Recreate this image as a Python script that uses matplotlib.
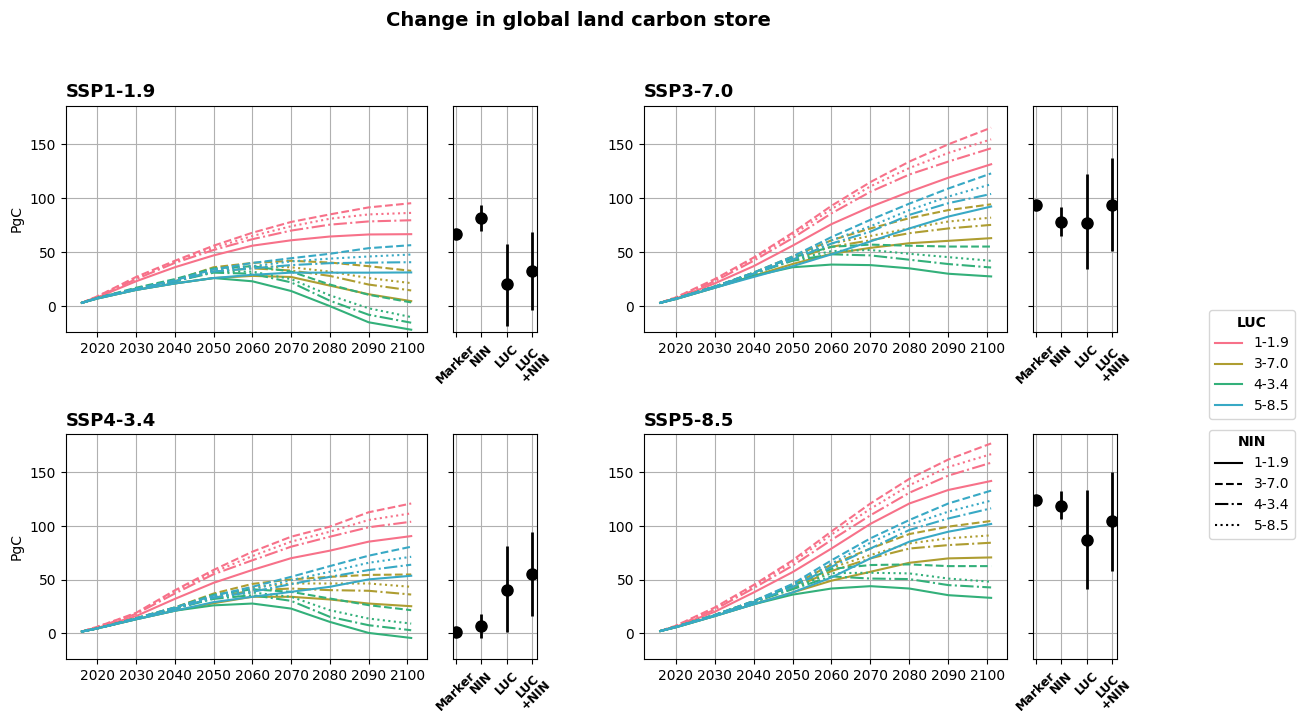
import matplotlib
matplotlib.use("Agg")
import matplotlib.pyplot as plt
from matplotlib.lines import Line2D
import seaborn as sns

# ---------------- data ----------------
years = [2016, 2020, 2030, 2040, 2050, 2060, 2070, 2080, 2090, 2101]
scenarios = ["SSP1-1.9", "SSP3-7.0", "SSP4-3.4", "SSP5-8.5"]
luc_labels = ["1-1.9", "3-7.0", "4-3.4", "5-8.5"]
nin_labels = ["1-1.9", "3-7.0", "4-3.4", "5-8.5"]
bar_labels = ["Marker", "NIN", "LUC", "LUC\n+NIN"]

# each LUC block: rows = NIN 1-1.9 (solid), 3-7.0 (dashed), 4-3.4 (dashdot), 5-8.5 (dotted)
ssp119_luc119 = [[3, 8, 23, 36, 47, 56, 61, 64.5, 66.4, 66.7],
                 [3, 9, 27, 42, 56, 68, 78, 85, 91.5, 95.4],
                 [3, 8.5, 25, 40, 52, 62, 70, 75.5, 78.5, 79.6],
                 [3, 9, 26, 41, 54, 65, 74, 81, 85, 86.4]]
ssp119_luc370 = [[3, 7, 15, 21, 26, 28, 27, 19, 11, 4.6],
                 [3, 7.5, 16, 24, 36, 40, 42, 40.4, 37, 32.7],
                 [3, 7.5, 16, 23, 32, 35, 33, 28, 20, 14.5],
                 [3, 7.5, 16, 23, 34, 37, 36, 32, 26, 21.3]]
ssp119_luc434 = [[3, 7, 15, 21, 26, 23, 14, 0, -15, -21.9],
                 [3, 7.5, 17, 25, 35, 37, 32, 20, 10.5, 3.4],
                 [3, 7.5, 16, 23, 31, 30, 22, 5, -8, -15.4],
                 [3, 7.5, 16, 23, 32, 32, 25, 10, -2, -10.2]]
ssp119_luc585 = [[3, 7, 15, 21, 26, 29, 31, 31, 31, 31.2],
                 [3, 7.5, 16, 24, 34, 40, 44.4, 48.5, 53.7, 56.5],
                 [3, 7.5, 16, 23, 32, 35, 38, 39.8, 40.3, 40.7],
                 [3, 7.5, 16, 23, 33, 37, 41.4, 44, 46, 47.8]]

ssp370_luc119 = [[3, 7, 21, 37, 56, 76, 92, 106, 119, 131.5],
                 [3, 8, 25, 45, 68, 93, 115, 134, 150, 165.4],
                 [3, 7.5, 23, 42, 63, 86, 106, 122, 134, 146.3],
                 [3, 8, 24, 44, 66, 90, 111, 128, 142, 154.6]]
ssp370_luc370 = [[3, 6.5, 17, 28, 39, 48.5, 54, 58.3, 60.5, 63],
                 [3, 7, 18, 31, 46, 61, 72, 81.5, 89, 94.4],
                 [3, 7, 18, 30, 43, 55, 61, 67.6, 72, 75.3],
                 [3, 7, 18, 30, 44, 58, 65, 72, 78.4, 82]]
ssp370_luc434 = [[3, 6.5, 17, 28, 36, 38.5, 38, 35, 30, 27.5],
                 [3, 7, 18, 31, 45, 55, 57, 56, 55.2, 55.2],
                 [3, 7, 18, 30, 42, 48, 47, 43, 39, 35.8],
                 [3, 7, 18, 30, 43, 51, 52, 48.5, 45.4, 42]]
ssp370_luc585 = [[3, 6.5, 17, 27, 37, 48, 60, 72, 83, 92.3],
                 [3, 7, 18, 31, 46, 64, 80, 95, 109, 123],
                 [3, 7, 18, 30, 43, 58, 69, 84.6, 95.4, 104],
                 [3, 7, 18, 30, 44, 61, 74, 89, 101.5, 113]]

ssp434_luc119 = [[1.6, 5, 16, 32, 47, 59, 70, 77, 85.4, 90.6],
                 [1.6, 6, 19, 40, 59, 76, 90, 99.4, 112.8, 121],
                 [1.6, 5.5, 18, 37, 55, 68, 80.7, 90, 98.8, 104],
                 [1.6, 6, 18.5, 39, 57, 72, 85.4, 94.7, 105.6, 111.8]]
ssp434_luc370 = [[1.6, 4.5, 13, 21, 28, 34, 34, 31.5, 27.7, 25.2],
                 [1.6, 4.5, 14, 24, 37, 46, 50.2, 52.6, 54.4, 54.8],
                 [1.6, 4.5, 13.5, 23, 33, 40, 41.7, 40.2, 39.6, 36.1],
                 [1.6, 4.5, 13.5, 23, 34, 43, 46.4, 46.4, 46.4, 43.3]]
ssp434_luc434 = [[1.6, 4.5, 13, 21, 26, 27.7, 23, 10.6, 0.3, -4.4],
                 [1.6, 4.5, 14, 24, 36, 41, 38.6, 32.4, 26.2, 21.5],
                 [1.6, 4.5, 13.5, 23, 32, 35.5, 30.2, 15.3, 7.5, 2.8],
                 [1.6, 4.5, 13.5, 23, 33, 38, 34, 21.5, 13.7, 9]]
ssp434_luc585 = [[1.6, 4.5, 13, 21, 29, 34, 38.6, 43.3, 50.2, 53.6],
                 [1.6, 4.5, 14, 24, 35, 43.3, 52.6, 62.6, 72.3, 80.7],
                 [1.6, 4.5, 13.5, 23, 33, 38.6, 45.8, 52.6, 58.9, 63.9],
                 [1.6, 4.5, 13.5, 23, 34, 40.8, 49.5, 57.3, 65.7, 71.3]]

ssp585_luc119 = [[2, 6, 20, 38, 57, 79, 102, 121, 133.6, 142],
                 [2, 7, 24, 45, 68, 95, 121, 144, 162, 177],
                 [2, 6.5, 22, 42, 63, 87, 110, 131, 147, 159],
                 [2, 7, 23, 44, 66, 92, 116, 138, 155, 167]]
ssp585_luc370 = [[2, 5.5, 16, 27, 38, 49, 57.3, 65.7, 69.8, 70.7],
                 [2, 6, 17, 30, 45, 64, 79, 92.5, 99.4, 104.7],
                 [2, 6, 16.5, 29, 42, 58, 69.8, 79, 82.2, 84.4],
                 [2, 6, 17, 29.5, 43, 61, 72.9, 83.8, 88.5, 91.3]]
ssp585_luc434 = [[2, 5.5, 16, 27, 36, 41.7, 43.9, 41.7, 35.5, 33],
                 [2, 6, 17, 30, 44, 60, 63.6, 64.2, 62.6, 62.6],
                 [2, 6, 16.5, 29, 41, 53, 51, 50.5, 44.9, 42.7],
                 [2, 6, 17, 29.5, 42, 56, 56.4, 55.8, 51, 48]]
ssp585_luc585 = [[2, 5.5, 16, 27, 38, 52, 69.8, 85.4, 94.7, 101.9],
                 [2, 6, 17, 30, 46, 68, 88.5, 105.6, 121, 133],
                 [2, 6, 16.5, 29, 43, 62, 79, 96.3, 107, 116.5],
                 [2, 6, 17, 29.5, 45, 65, 84.4, 101, 113.4, 123.7]]

# error-bar panels: central value, lower end, upper end
ssp119_bar_val = [66.7, 81.5, 20.4, 32.7]
ssp119_bar_lo = [66.7, 70, -18, -4]
ssp119_bar_hi = [66.7, 94, 57.7, 69]
ssp370_bar_val = [94.1, 78, 77.2, 94.1]
ssp370_bar_lo = [94.1, 65.4, 34.3, 51.5]
ssp370_bar_hi = [94.1, 92.3, 122.5, 137]
ssp434_bar_val = [1.6, 6.3, 40.3, 55.3]
ssp434_bar_lo = [1.6, -4, 1.3, 16.3]
ssp434_bar_hi = [1.6, 17.5, 81.3, 94]
ssp585_bar_val = [124, 119, 86.9, 104.4]
ssp585_bar_lo = [124, 107, 41, 58.4]
ssp585_bar_hi = [124, 133, 134, 150]

panel_lines = [
    [ssp119_luc119, ssp119_luc370, ssp119_luc434, ssp119_luc585],
    [ssp370_luc119, ssp370_luc370, ssp370_luc434, ssp370_luc585],
    [ssp434_luc119, ssp434_luc370, ssp434_luc434, ssp434_luc585],
    [ssp585_luc119, ssp585_luc370, ssp585_luc434, ssp585_luc585],
]
panel_bars = [
    (ssp119_bar_val, ssp119_bar_lo, ssp119_bar_hi),
    (ssp370_bar_val, ssp370_bar_lo, ssp370_bar_hi),
    (ssp434_bar_val, ssp434_bar_lo, ssp434_bar_hi),
    (ssp585_bar_val, ssp585_bar_lo, ssp585_bar_hi),
]

# ---------------- figure ----------------
colors = sns.color_palette("husl", 5)[:4]
styles = ["-", "--", "-.", ":"]

W, H = 1299, 711
fig = plt.figure(figsize=(W / 100, H / 100), dpi=100)


def box(x0, x1, y0, y1):
    return [x0 / W, 1 - y1 / H, (x1 - x0) / W, (y1 - y0) / H]


line_boxes = [box(65.7, 426.7, 105.7, 332.3), box(644, 1006.7, 105.7, 332.3),
              box(65.7, 426.7, 434, 659.3), box(644, 1006.7, 434, 659.3)]
bar_boxes = [box(452.7, 536.7, 105.7, 332.3), box(1032.7, 1116.7, 105.7, 332.3),
             box(452.7, 536.7, 434, 659.3), box(1032.7, 1116.7, 434, 659.3)]

ylim = (-24.3, 185.8)
for i, scen in enumerate(scenarios):
    ax = fig.add_axes(line_boxes[i])
    for li, block in enumerate(panel_lines[i]):
        for ni, series in enumerate(block):
            ax.plot(years, series, color=colors[li], linestyle=styles[ni], lw=1.5)
    ax.set_xlim(2011.85, 2105.0)
    ax.set_ylim(*ylim)
    ax.set_xticks(range(2020, 2101, 10))
    ax.set_yticks([0, 50, 100, 150])
    ax.grid(True, color="#b0b0b0", lw=0.8)
    ax.set_axisbelow(True)
    ax.tick_params(labelsize=10)
    ax.set_title(scen, loc="left", fontweight="bold", fontsize=13)
    if i % 2 == 0:
        ax.set_ylabel("PgC", fontsize=10)

    bx = fig.add_axes(bar_boxes[i])
    val, lo, hi = panel_bars[i]
    xs = list(range(len(bar_labels)))
    yerr = [[v - l for v, l in zip(val, lo)], [h - v for v, h in zip(val, hi)]]
    bx.errorbar(xs, val, yerr=yerr, fmt="o", color="black", ms=8, elinewidth=2,
                capsize=0)
    bx.set_xlim(-0.13, 3.19)
    bx.set_ylim(*ylim)
    bx.set_yticks([0, 50, 100, 150])
    bx.set_yticklabels([])
    bx.set_xticks(xs)
    bx.set_xticklabels(bar_labels, rotation=45, fontweight="bold", fontsize=9,
                       linespacing=0.95)
    bx.grid(True, color="#b0b0b0", lw=0.8)
    bx.set_axisbelow(True)

fig.suptitle("Change in global land carbon store", fontweight="bold", fontsize=14,
             x=0.445, y=0.985)

luc_handles = [Line2D([], [], color=colors[k], lw=1.5) for k in range(4)]
nin_handles = [Line2D([], [], color="black", lw=1.5, linestyle=styles[k]) for k in range(4)]
leg1 = fig.legend(luc_handles, luc_labels, title="LUC", loc="upper center",
                  bbox_to_anchor=(1252 / W, 1 - 303 / H), fontsize=10,
                  title_fontproperties={"weight": "bold", "size": 10})
leg2 = fig.legend(nin_handles, nin_labels, title="NIN", loc="upper center",
                  bbox_to_anchor=(1252 / W, 1 - 423 / H), fontsize=10,
                  title_fontproperties={"weight": "bold", "size": 10})

fig.savefig("out.png", dpi=100)
